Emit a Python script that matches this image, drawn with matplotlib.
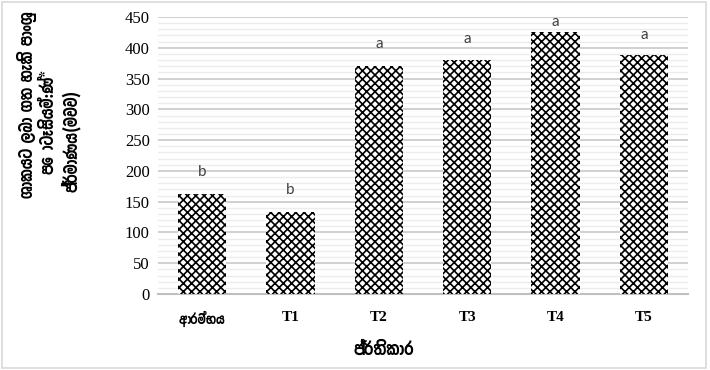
import matplotlib
matplotlib.use("Agg")
import matplotlib.pyplot as plt
from matplotlib.patches import Rectangle
from matplotlib.ticker import MultipleLocator

# ── data ──────────────────────────────────────────────────────────────────────
treatments = ["ආරම්භය", "T1", "T2", "T3", "T4", "T5"]
potassium = [162, 134, 371, 380, 426, 388]
groups = ["b", "b", "a", "a", "a", "a"]
group_y = [198, 169, 406, 415, 442, 421]

ylabel_lines = ["ශාකයට ලබා ගත හැකි පාංශු", "පොටෑසියම්:ණ්*", "ප්‍රමාණය(මවව)"]
xlabel = "ප්‍රතිකාර"

SIN = ["Yaldevi Colombo", "Noto Sans Sinhala", "DejaVu Sans"]
SERIF = ["Liberation Serif", "DejaVu Serif"]

plt.rcParams["hatch.linewidth"] = 1.2
plt.rcParams["hatch.color"] = "black"

fig = plt.figure(figsize=(7.1, 3.7), dpi=100)
ax = fig.add_axes([0.2225, 0.2054, 0.7465, 0.7486])

x = range(len(treatments))
ax.bar(x, potassium, width=0.55, color="white", edgecolor="black",
       hatch="xxxx", linewidth=0, zorder=3)

for i, (lab, y) in enumerate(zip(groups, group_y)):
    ax.text(i, y, lab, ha="center", va="center", fontsize=11,
            family=["Lato", "DejaVu Sans"], color="#404040")

ax.set_xlim(-0.5, len(treatments) - 0.5)
ax.set_ylim(0, 450)
ax.yaxis.set_major_locator(MultipleLocator(50))
ax.yaxis.set_minor_locator(MultipleLocator(10))
ax.grid(axis="y", which="major", color="#d0d0d0", lw=1.4, zorder=0)
ax.grid(axis="y", which="minor", color="#ececec", lw=1.0, zorder=0)
ax.set_axisbelow(True)

for s in ["top", "right", "left"]:
    ax.spines[s].set_visible(False)
ax.spines["bottom"].set_color("#bfbfbf")
ax.spines["bottom"].set_linewidth(1.5)
ax.tick_params(axis="both", which="both", length=0)
ax.tick_params(axis="y", pad=6)
ax.tick_params(axis="x", pad=12)

for t in ax.get_yticklabels():
    t.set_family(SERIF)
    t.set_fontsize(12)

ax.set_xticks(list(x))
ax.set_xticklabels(treatments)
for i, t in enumerate(ax.get_xticklabels()):
    t.set_fontweight("bold")
    if i == 0:
        t.set_family(SIN)
        t.set_fontsize(11)
    else:
        t.set_family(SERIF)
        t.set_fontsize(11)

fig.text(384 / 710, 1 - 350 / 370, xlabel, ha="center", va="center",
         fontsize=14, fontweight="bold", family=SIN)

# three-line rotated y label
ylab_pos = [(27, 105), (48, 122), (71, 141)]
for line, (px, py) in zip(ylabel_lines, ylab_pos):
    fig.text(px / 710, 1 - py / 370, line, rotation=90, ha="center",
             va="center", fontsize=13.5, fontweight="bold", family=SIN)

# light frame round the chart area
fig.patches.append(Rectangle((0.003, 0.005), 0.992, 0.99, transform=fig.transFigure,
                             fill=False, edgecolor="#d9d9d9", lw=1.2))

fig.savefig("out.png", dpi=100)
